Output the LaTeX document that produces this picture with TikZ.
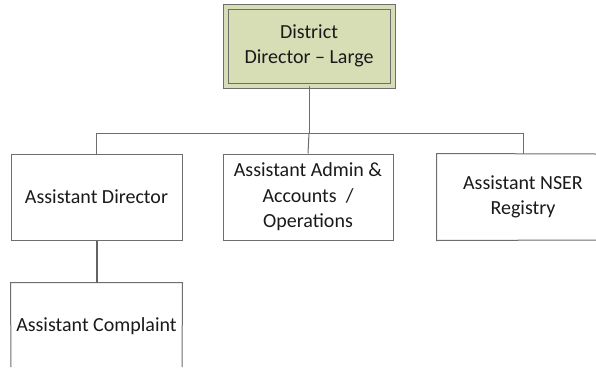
\documentclass[tikz,border=0pt]{standalone}
\usepackage{fontspec}
\setmainfont{Carlito}
\definecolor{boxline}{HTML}{6E6E6E}
\definecolor{topfill}{HTML}{D7DDB5}
\definecolor{txt}{HTML}{1A1A1A}
\begin{document}
\begin{tikzpicture}[x=1pt,y=-1pt,
  orgbox/.style={draw=boxline,line width=1pt,fill=white,rectangle,align=center,
    font=\fontsize{20}{25.5}\selectfont,text=txt,inner sep=0pt},
  openbox/.style={orgbox,draw=none,fill=none},
  conn/.style={draw=boxline,line width=1pt}]
\fill[white] (0,0) rectangle (596,367);
\useasboundingbox (0,0) rectangle (596,367);
% top box
\node[orgbox,fill=topfill,draw=boxline,double=topfill,double distance=4pt,
  minimum width=167pt,minimum height=79pt] (top) at (309,46) {District\\Director -- Large};
% second level
\node[orgbox,minimum width=171pt,minimum height=86pt] (ad) at (96.5,197) {Assistant Director};
\node[orgbox,minimum width=170pt,minimum height=86pt] (mid) at (308,197) {Assistant Admin \&\\Accounts~~/\\Operations};
\node[openbox,minimum width=172pt,minimum height=86pt] (nser) at (523,197) {Assistant NSER\\Registry};
\coordinate (nserR1) at (596,154);
\coordinate (nserR2) at (596,240);
\draw[conn] (nserR1) -- (nser.north west) -- (nser.south west) -- (nserR2);
% third level
\node[openbox,minimum width=171pt,minimum height=86pt] (comp) at (96.5,326) {Assistant Complaint};
\coordinate (compL) at (11,367);
\coordinate (compR) at (182,367);
\draw[conn] (compL) -- (comp.north west) -- (comp.north east) -- (compR);
% connectors
\coordinate (bus) at (309,133);
\draw[conn] (top.south) -- (bus);
\draw[conn] (bus) -| (ad.north);
\draw[conn] (bus) -| (nser.north);
\draw[conn] (bus) -- (mid.north);
\draw[conn,line width=2pt,draw=boxline!90!black] (ad.south) -- (comp.north);
\end{tikzpicture}
\end{document}
